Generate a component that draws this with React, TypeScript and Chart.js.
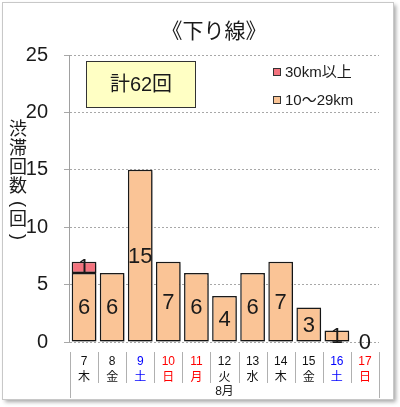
import React, { useEffect, useRef } from 'react';
import { Chart, registerables, Plugin } from 'chart.js';

Chart.register(...registerables);

// 8月 7日〜17日
const days = ['7', '8', '9', '10', '11', '12', '13', '14', '15', '16', '17'];
const weekdays = ['木', '金', '土', '日', '月', '火', '水', '木', '金', '土', '日'];
const dayColors = ['#111', '#111', '#0000ff', '#ff0000', '#ff0000', '#111', '#111', '#111', '#111', '#0000ff', '#ff0000'];
const moderate = [6, 6, 15, 7, 6, 4, 6, 7, 3, 1, 0]; // 10〜29km
const heavy = [1, 0, 0, 0, 0, 0, 0, 0, 0, 0, 0]; // 30km以上
const monthLabel = '8月';
const titleText = '《下り線》';
const totalText = '計62回';
const yTitleChars = ['渋', '滞', '回', '数', '(', '回', ')'];

const FONT = "'Liberation Sans', 'Noto Sans CJK JP', sans-serif";
const TEXT = '#1a1a1a';
const ORANGE = '#fac496';
const RED = '#f4737e';

const decorPlugin: Plugin<'bar'> = {
  id: 'decor',
  beforeDraw(chart) {
    const ctx = chart.ctx;
    ctx.save();
    ctx.fillStyle = '#fff';
    ctx.fillRect(0, 0, chart.width, chart.height);
    // frame with shadow
    ctx.shadowColor = 'rgba(0,0,0,0.35)';
    ctx.shadowBlur = 4;
    ctx.shadowOffsetX = 3;
    ctx.shadowOffsetY = 3;
    ctx.fillStyle = '#fff';
    ctx.fillRect(2, 2, 391, 397);
    ctx.shadowColor = 'transparent';
    ctx.strokeStyle = '#c8c8c8';
    ctx.lineWidth = 1;
    ctx.strokeRect(2.5, 2.5, 391, 397);
    ctx.restore();
  },
  beforeDatasetsDraw(chart) {
    const ctx = chart.ctx;
    const area = chart.chartArea;
    // solid y axis line
    ctx.save();
    ctx.strokeStyle = '#a0a0a0';
    ctx.lineWidth = 1;
    ctx.beginPath();
    ctx.moveTo(area.left - 0.5, area.top);
    ctx.lineTo(area.left - 0.5, area.bottom);
    ctx.stroke();
    ctx.restore();

    ctx.save();
    ctx.shadowColor = 'rgba(0,0,0,0.3)';
    ctx.shadowBlur = 3;
    ctx.shadowOffsetX = 2;
    ctx.shadowOffsetY = 2;
  },
  afterDatasetsDraw(chart) {
    const ctx = chart.ctx;
    ctx.restore();
    ctx.save();
    // value labels
    ctx.font = `22px ${FONT}`;
    ctx.fillStyle = TEXT;
    ctx.textAlign = 'center';
    ctx.textBaseline = 'middle';
    chart.data.datasets.forEach((ds, i) => {
      const meta = chart.getDatasetMeta(i);
      meta.data.forEach((el: any, j) => {
        const v = ds.data[j] as number;
        if (i === 1 && v === 0) return;
        ctx.fillText(String(v), el.x, (el.y + el.base) / 2 + 1);
      });
    });
    ctx.restore();
  },
  afterDraw(chart) {
    const ctx = chart.ctx;
    const area = chart.chartArea;
    const x = chart.scales.x;
    ctx.save();
    // title
    ctx.fillStyle = TEXT;
    ctx.textAlign = 'center';
    ctx.textBaseline = 'middle';
    ctx.font = `21px ${FONT}`;
    ctx.fillText(titleText, 214, 32);

    // total box
    ctx.fillStyle = '#ffffc4';
    ctx.fillRect(86, 61, 109, 46);
    ctx.strokeStyle = '#333';
    ctx.lineWidth = 1;
    ctx.strokeRect(86.5, 61.5, 109, 46);
    ctx.fillStyle = TEXT;
    ctx.font = `20px ${FONT}`;
    ctx.fillText(totalText, 141, 85);

    // legend
    const legend: [string, string, number][] = [
      [chart.data.datasets[1].label as string, RED, 72],
      [chart.data.datasets[0].label as string, ORANGE, 100],
    ];
    ctx.font = `15px ${FONT}`;
    ctx.textAlign = 'left';
    legend.forEach(([label, color, y]) => {
      ctx.fillStyle = color;
      ctx.fillRect(273, y - 4, 8, 8);
      ctx.strokeStyle = '#333';
      ctx.strokeRect(273.5, y - 3.5, 7, 7);
      ctx.fillStyle = TEXT;
      ctx.fillText(label, 285, y + 1);
    });

    // vertical y-axis title (parentheses rotated like vertical writing)
    ctx.textAlign = 'center';
    ctx.font = `18px ${FONT}`;
    let ty = 130;
    yTitleChars.forEach((c) => {
      const isParen = c === '(' || c === ')';
      if (isParen) {
        ctx.save();
        ctx.translate(18, ty - 2);
        ctx.rotate(Math.PI / 2);
        ctx.fillText(c, 0, 0);
        ctx.restore();
      } else {
        ctx.fillText(c, 18, ty);
      }
      ty += isParen ? 14 : 19;
    });

    // category separators
    const n = days.length;
    const step = (area.right - area.left) / n;
    ctx.strokeStyle = '#b0b0b0';
    ctx.lineWidth = 1;
    for (let i = 0; i <= n; i++) {
      const px = Math.round(area.left + i * step) + 0.5;
      ctx.beginPath();
      ctx.moveTo(px, area.bottom + 10);
      ctx.lineTo(px, i === 0 || i === n ? 398 : 383);
      ctx.stroke();
    }
    ctx.fillStyle = TEXT;
    ctx.font = `12px ${FONT}`;
    ctx.fillText(monthLabel, (x.left + x.right) / 2, 392);
    ctx.restore();
  },
};

const App: React.FC = () => {
  const canvasRef = useRef<HTMLCanvasElement | null>(null);

  useEffect(() => {
    if (!canvasRef.current) return;
    const chart = new Chart(canvasRef.current, {
      type: 'bar',
      data: {
        labels: days.map((d, i) => [d, weekdays[i]]),
        datasets: [
          {
            label: '10〜29km',
            data: moderate,
            backgroundColor: ORANGE,
            borderColor: '#1a1a1a',
            borderWidth: 1.5,
            borderSkipped: false,
            barPercentage: 0.88,
            categoryPercentage: 1,
          },
          {
            label: '30km以上',
            data: heavy,
            backgroundColor: RED,
            borderColor: '#1a1a1a',
            borderWidth: 1.5,
            borderSkipped: false,
            barPercentage: 0.88,
            categoryPercentage: 1,
          },
        ],
      },
      options: {
        responsive: false,
        animation: false,
        layout: { padding: { top: 55, right: 21, left: 0, bottom: 0 } },
        plugins: {
          legend: { display: false },
          title: { display: false },
          tooltip: { enabled: false },
        },
        scales: {
          x: {
            stacked: true,
            grid: { display: false },
            border: { display: false },
            afterFit: (s: any) => {
              s.height = 65;
            },
            ticks: {
              padding: 4,
              color: (c: any) => dayColors[c.index],
              font: { family: FONT, size: 12, lineHeight: 1.3 },
              maxRotation: 0,
              autoSkip: false,
            },
          },
          y: {
            stacked: true,
            min: 0,
            max: 25,
            afterFit: (s: any) => {
              s.width = 70;
            },
            ticks: {
              stepSize: 5,
              padding: 16,
              color: TEXT,
              font: { family: FONT, size: 20 },
            },
            grid: {
              color: '#a8a8a8',
              tickLength: 6,
              lineWidth: 1,
            },
            border: { display: false, dash: [2, 2] },
          },
        },
      },
      plugins: [decorPlugin],
    });
    return () => chart.destroy();
  }, []);

  return (
    <div style={{ position: 'absolute', left: 0, top: 0, width: 400, height: 407 }}>
      <canvas ref={canvasRef} width={400} height={407} />
    </div>
  );
};

export default App;
